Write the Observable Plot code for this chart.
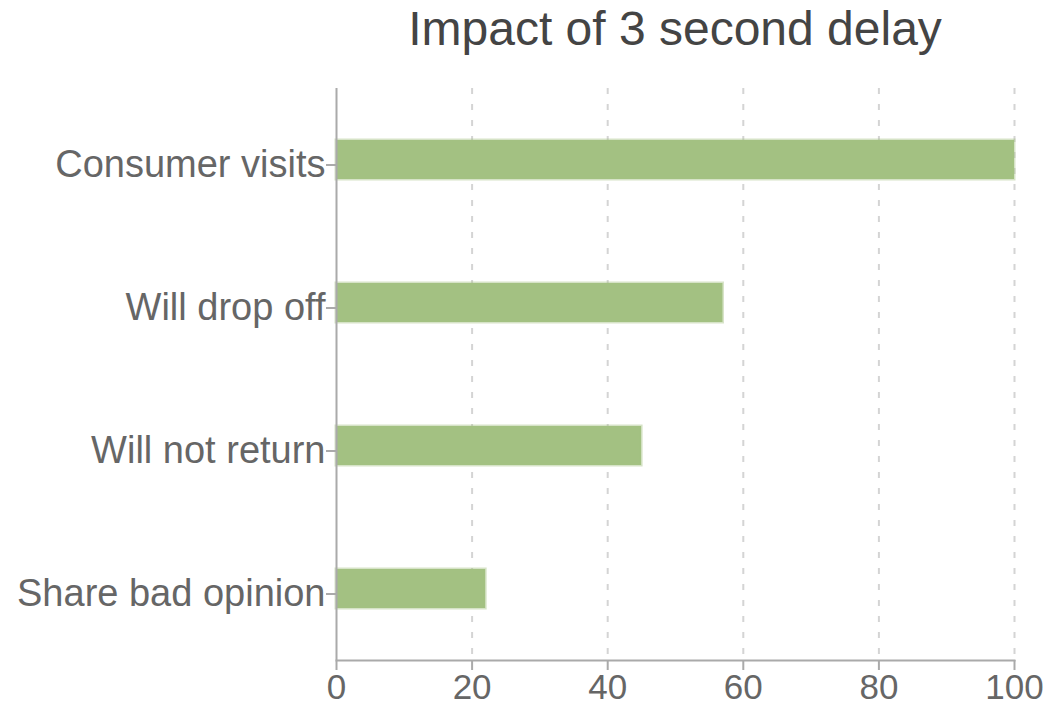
<!DOCTYPE html>
<html>
<head>
<meta charset="utf-8">
<script src="https://cdn.jsdelivr.net/npm/d3@7"></script>
<script src="https://cdn.jsdelivr.net/npm/@observablehq/plot@0.6"></script>
<style>
  body { margin: 0; background: #fff; font-family: "Liberation Sans", Arial, sans-serif; }
  #title { width: 1047px; height: 70px; box-sizing: border-box; padding-left: 336px; padding-right: 33px;
           text-align: center; font-size: 48px; line-height: 58px; color: #444; white-space: nowrap; }
</style>
</head>
<body>
<div id="title">Impact of 3 second delay</div>
<div id="chart"></div>
<script>
const categories = ["Consumer visits", "Will drop off", "Will not return", "Share bad opinion"];
const values = [100, 57, 45, 22];
const xTicks = [0, 20, 40, 60, 80, 100];
const gridTicks = [20, 40, 60, 80, 100];

const data = categories.map((c, i) => ({category: c, value: values[i]}));

const chart = Plot.plot({
  width: 1047,
  height: 639,
  marginTop: 18,
  marginBottom: 49,
  marginLeft: 336,
  marginRight: 33,
  style: {fontFamily: "'Liberation Sans', Arial, sans-serif", background: "#fff"},
  x: {domain: [0, 100], label: null, ticks: xTicks},
  y: {domain: categories, label: null, paddingInner: 0.727, paddingOuter: 0.3635},
  marks: [
    Plot.ruleX(gridTicks, {stroke: "#d4d4d4", strokeWidth: 2, strokeDasharray: "6,10"}),
    Plot.barX(data, {x: "value", y: "category", fill: "#a3c182", stroke: "#a3c182", strokeOpacity: 0.45, strokeWidth: 3}),
    Plot.ruleX([0], {stroke: "#aaa", strokeWidth: 2}),
    Plot.frame({anchor: "bottom", stroke: "#aaa", strokeWidth: 2}),
    Plot.axisX({ticks: xTicks, tickSize: 10, tickPadding: 4, stroke: "#aaa", strokeWidth: 2, fill: "#666", fontSize: 35, tickFormat: d => String(d)}),
    Plot.axisY({tickSize: 10, tickPadding: 1, stroke: "#aaa", strokeWidth: 2, fill: "#666", fontSize: 38, dy: 5})
  ]
});
document.getElementById("chart").appendChild(chart);
</script>
</body>
</html>
